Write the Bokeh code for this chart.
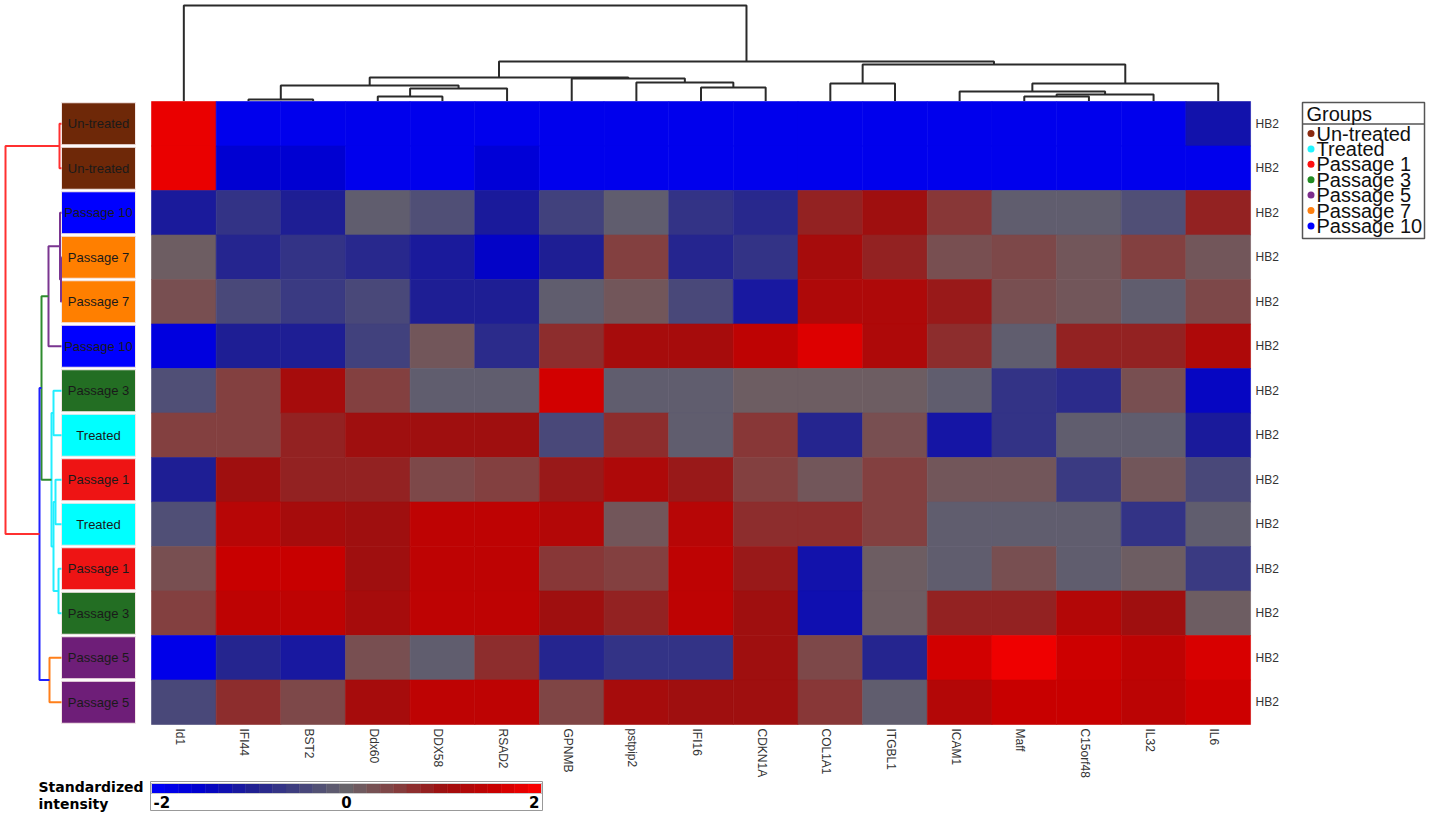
import math
import numpy as np
from bokeh.plotting import figure
from bokeh.models import Range1d, ColumnDataSource, LinearColorMapper
from bokeh.transform import transform
from bokeh.core.properties import value
from bokeh.embed import file_html
from bokeh.resources import INLINE

# ---------------- data ----------------
genes = ["Id1", "IFI44", "BST2", "Ddx60", "DDX58", "RSAD2", "GPNMB", "pstpip2", "IFI16",
         "CDKN1A", "COL1A1", "ITGBL1", "ICAM1", "Maff", "C15orf48", "IL32", "IL6"]
samples = ["Un-treated", "Un-treated", "Passage 10", "Passage 7", "Passage 7", "Passage 10",
           "Passage 3", "Treated", "Passage 1", "Treated", "Passage 1", "Passage 3",
           "Passage 5", "Passage 5"]
cell_line = "HB2"

values = [
    [1.8, -1.85, -1.85, -1.85, -1.85, -1.85, -1.85, -1.85, -1.85, -1.85, -1.85, -1.85, -1.85, -1.85, -1.85, -1.85, -1.2],
    [1.8, -1.55, -1.55, -1.85, -1.85, -1.6, -1.85, -1.85, -1.85, -1.85, -1.85, -1.85, -1.85, -1.85, -1.85, -1.85, -1.85],
    [-1.05, -0.7, -1.0, -0.1, -0.3, -1.05, -0.5, -0.1, -0.7, -0.85, 0.8, 1.0, 0.6, -0.1, -0.1, -0.3, 0.8],
    [0.1, -0.9, -0.7, -0.85, -1.05, -1.45, -1.0, 0.5, -0.9, -0.7, 1.1, 0.8, 0.3, 0.4, 0.2, 0.5, 0.2],
    [0.3, -0.4, -0.6, -0.4, -1.0, -1.0, -0.1, 0.2, -0.4, -1.1, 1.2, 1.2, 0.9, 0.3, 0.2, -0.1, 0.4],
    [-1.7, -1.0, -1.0, -0.5, 0.2, -0.8, 0.7, 1.1, 1.1, 1.4, 1.7, 1.2, 0.7, -0.1, 0.8, 0.8, 1.2],
    [-0.3, 0.5, 1.1, 0.5, -0.1, -0.1, 1.6, -0.1, -0.1, 0.1, 0.1, 0.1, -0.1, -0.7, -0.8, 0.3, -1.4],
    [0.5, 0.5, 0.8, 1.0, 1.0, 1.0, -0.4, 0.7, -0.1, 0.6, -0.9, 0.3, -1.15, -0.7, -0.1, -0.1, -1.05],
    [-1.0, 1.0, 0.8, 0.8, 0.4, 0.5, 0.9, 1.2, 0.9, 0.5, 0.2, 0.5, 0.2, 0.2, -0.6, 0.2, -0.4],
    [-0.3, 1.3, 1.1, 1.0, 1.4, 1.4, 1.25, 0.2, 1.3, 0.7, 0.7, 0.5, -0.1, -0.1, -0.1, -0.7, -0.1],
    [0.3, 1.5, 1.5, 1.0, 1.4, 1.4, 0.6, 0.5, 1.4, 0.9, -1.2, 0.1, -0.1, 0.3, -0.1, 0.1, -0.6],
    [0.5, 1.4, 1.4, 1.1, 1.4, 1.4, 1.0, 0.8, 1.4, 1.0, -1.25, 0.1, 0.8, 0.8, 1.25, 1.0, 0.1],
    [-1.8, -0.9, -1.1, 0.3, -0.1, 0.7, -0.9, -0.7, -0.7, 1.0, 0.4, -0.9, 1.6, 1.85, 1.55, 1.4, 1.65],
    [-0.4, 0.7, 0.4, 1.1, 1.4, 1.4, 0.45, 1.1, 1.0, 1.0, 0.6, -0.1, 1.25, 1.5, 1.5, 1.35, 1.55],
]

groups = ["Un-treated", "Treated", "Passage 1", "Passage 3", "Passage 5", "Passage 7", "Passage 10"]
group_box_colors = ["#6E2808", "#00FFFF", "#EE1414", "#236E23", "#6E1E78", "#FF7F00", "#0000FF"]
group_dot_colors = ["#8B2A10", "#22F5FF", "#FF1010", "#228B22", "#7D2D8C", "#FF7F0E", "#0000FF"]

# column dendrogram (scipy-style: ids < 17 are genes, later ids are earlier merges)
col_merges = [
    (1, 2, 0.15), (3, 4, 0.45), (18, 5, 1.25), (17, 19, 1.55), (8, 9, 1.35),
    (7, 21, 1.85), (6, 22, 2.25), (20, 23, 2.35), (10, 11, 1.75), (13, 14, 0.45),
    (26, 15, 0.65), (12, 27, 0.95), (28, 16, 1.75), (25, 29, 3.65), (24, 30, 3.95),
    (0, 31, 9.55),
]
# row dendrogram (ids < 14 are samples)
row_merges = [
    (0, 1, 0.2), (3, 4, 0.05), (2, 15, 0.15), (16, 5, 1.3), (6, 7, 0.8),
    (8, 9, 0.6), (10, 11, 0.3), (19, 20, 0.8), (18, 21, 1.0), (17, 22, 2.0),
    (12, 13, 1.2), (23, 24, 2.2), (14, 25, 5.6),
]
row_merge_colors = ["#FF3030", "#7A3590", "#7A3590", "#7A3590", "#22EEFF", "#22EEFF", "#22EEFF",
                    "#22EEFF", "#22EEFF", "#2E8B2E", "#FF7F1A", "#2020FF", "#FF3030"]

scale_vals = [-2.0, -1.5, -1.0, -0.5, 0.0, 0.5, 1.0, 1.5, 2.0]
scale_rgb = [(0, 0, 250), (0, 0, 205), (30, 30, 148), (65, 65, 125), (104, 100, 106),
             (130, 65, 65), (158, 15, 15), (198, 0, 0), (255, 0, 0)]
scale_ticks = [-2, 0, 2]
scale_title = ["Standardized", "intensity"]

# ---------------- layout (pixels) ----------------
W, H = 1439, 816
HX0, HY0 = 151, 101
CW, RH = 64.65, 44.5
n_rows, n_cols = len(samples), len(genes)


def px_x(px):
    return (px - HX0) / CW


def px_y(py):
    return (py - HY0) / RH


def color_at(v):
    arr = np.array(scale_rgb, dtype=float)
    rgb = [np.interp(v, scale_vals, arr[:, k]) for k in range(3)]
    return "#%02x%02x%02x" % tuple(int(round(c)) for c in rgb)


palette = [color_at(v) for v in np.linspace(-2, 2, 256)]
mapper = LinearColorMapper(palette=palette, low=-2, high=2)

p = figure(width=W, height=H, output_backend="svg", toolbar_location=None,
           x_range=Range1d(px_x(0), px_x(W)), y_range=Range1d(px_y(H), px_y(0)),
           x_axis_location=None, y_axis_location=None, min_border=0,
           outline_line_color=None, background_fill_color="white", border_fill_color="white")
p.grid.visible = False

# heatmap
xs, ys, vs = [], [], []
for r in range(n_rows):
    for c in range(n_cols):
        xs.append(c + 0.5)
        ys.append(r + 0.5)
        vs.append(values[r][c])
src = ColumnDataSource(dict(x=xs, y=ys, v=vs))
p.rect(x="x", y="y", width=1, height=1, source=src,
       fill_color=transform("v", mapper), line_color=transform("v", mapper), line_width=0.6)

# sample boxes and labels
box_cols = [group_box_colors[groups.index(s)] for s in samples]
row_c = [r + 0.5 for r in range(n_rows)]
p.rect(x=px_x(98), y=row_c, width=74 / CW, height=42 / RH, fill_color=box_cols,
       line_color="#f3e6e6", line_width=1)
p.text(x=px_x(98), y=row_c, text=samples, text_align="center", text_baseline="middle",
       text_font=value("Liberation Sans"), text_font_size="13px", text_color="#1a1a1a")

# right labels
p.text(x=px_x(1255), y=row_c, text=[cell_line] * n_rows, text_align="left",
       text_baseline="middle", text_font=value("Liberation Sans"), text_font_size="12px",
       text_color="#333333")

# gene labels
p.text(x=[c + 0.5 for c in range(n_cols)], y=px_y(728), text=genes, angle=-math.pi / 2,
       text_align="left", text_baseline="middle", x_offset=-4,
       text_font=value("Liberation Sans"), text_font_size="12px", text_color="#333333")


def dendro(merges, n):
    pos = [i + 0.5 for i in range(n)]
    hts = [0.0] * n
    segs = []
    for a, b, h in merges:
        segs.append(([pos[a], pos[a], pos[b], pos[b]], [hts[a], h, h, hts[b]]))
        pos.append((pos[a] + pos[b]) / 2)
        hts.append(h)
    return segs


UNIT = 10.0  # pixels per distance unit
segs = dendro(col_merges, n_cols)
p.multi_line(xs=[s[0] for s in segs],
             ys=[[px_y(100.5 - h * UNIT) for h in s[1]] for s in segs],
             line_color="#2a2a2a", line_width=2)

segs = dendro(row_merges, n_rows)
p.multi_line(xs=[[px_x(61 - h * UNIT) for h in s[1]] for s in segs],
             ys=[s[0] for s in segs], line_color=row_merge_colors, line_width=2)

# legend
p.quad(left=px_x(1302), right=px_x(1424), top=px_y(102), bottom=px_y(238),
       fill_color="white", line_color="#555555", line_width=1.5)
p.segment(x0=px_x(1302), y0=px_y(123.5), x1=px_x(1424), y1=px_y(123.5),
          line_color="#555555", line_width=1.5)
p.text(x=px_x(1306), y=px_y(113), text=["Groups"], text_align="left", text_baseline="middle",
       text_font=value("Liberation Sans"), text_font_size="20px", text_color="#111111")
item_y = [px_y(133 + 15.4 * k) for k in range(len(groups))]
p.scatter(x=px_x(1310.5), y=item_y, size=7, fill_color=group_dot_colors, line_color=None)
p.text(x=px_x(1316), y=item_y, text=groups, text_align="left", text_baseline="middle",
       text_font=value("Liberation Sans"), text_font_size="20px", text_color="#111111")

# colour scale
CB_L, CB_R, CB_T, CB_B = 151, 541, 783, 793
nb = 29
edges = np.linspace(-2, 2, nb + 1)
cen = (edges[:-1] + edges[1:]) / 2


def v2px(v):
    return CB_L + (v + 2) / 4 * (CB_R - CB_L)


p.quad(left=px_x(150), right=px_x(542), top=px_y(781), bottom=px_y(810),
       fill_color=None, line_color="#999999", line_width=1)
p.quad(left=[px_x(v2px(e)) for e in edges[:-1]], right=[px_x(v2px(e)) for e in edges[1:]],
       top=px_y(CB_T), bottom=px_y(CB_B), fill_color=[color_at(v) for v in cen],
       line_color=[color_at(v) for v in cen], line_width=0.5)
p.line(x=[px_x(CB_L), px_x(CB_R), px_x(CB_R), px_x(CB_L), px_x(CB_L)],
       y=[px_y(CB_T), px_y(CB_T), px_y(CB_B), px_y(CB_B), px_y(CB_T)],
       line_color="#cccccc", line_width=1)
aligns = ["left", "center", "right"]
for t, al in zip(scale_ticks, aligns):
    xoff = 2 if al == "left" else (-2 if al == "right" else 0)
    p.text(x=px_x(v2px(t)), y=px_y(801.5), text=[str(t)], text_align=al, text_baseline="middle",
           x_offset=xoff, text_font=value("DejaVu Sans"), text_font_style="bold",
           text_font_size="15px", text_color="#000000")
p.text(x=px_x(38), y=[px_y(786), px_y(803)], text=scale_title, text_align="left",
       text_baseline="middle", text_font=value("DejaVu Sans"), text_font_style="bold",
       text_font_size="14px", text_color="#000000")

open("out.html", "w").write(file_html(p, INLINE))
